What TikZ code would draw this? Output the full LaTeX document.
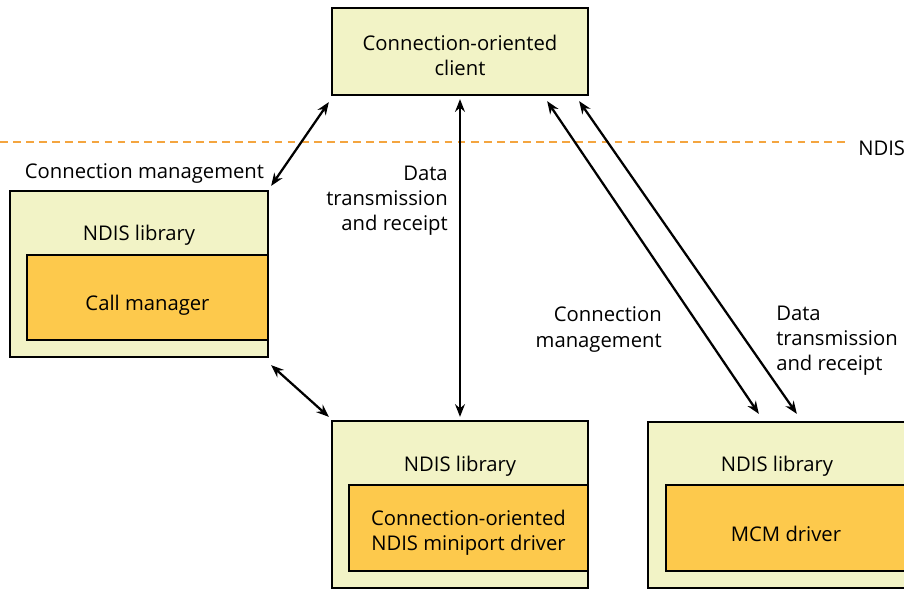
\documentclass[tikz,border=0pt]{standalone}
\usepackage{fontspec}
\setmainfont{Open Sans}
\usetikzlibrary{arrows.meta,positioning,calc}
\definecolor{libfill}{HTML}{F2F3C6}
\definecolor{drvfill}{HTML}{FDC94C}
\definecolor{ndisline}{HTML}{F4A53F}

\begin{document}
\begin{tikzpicture}[x=0.025cm,y=-0.025cm,
  lbl/.style={font=\fontsize{14.4}{17.8}\selectfont,inner sep=0pt},
  libbox/.style={draw,line width=1.6pt,fill=libfill,inner sep=0pt},
  drvbox/.style={draw,line width=1.6pt,fill=drvfill,inner sep=0pt},
  biarrow/.style={{Stealth[length=9pt,width=7pt]}-{Stealth[length=9pt,width=7pt]},line width=1.6pt}]
  \useasboundingbox (0,0) rectangle (904,588);
  \clip (0,0) rectangle (904,588);
  \draw[ndisline,line width=1.4pt,dash pattern=on 5.5pt off 3.8pt] (0,142) -- (848,142);
  \node[lbl,anchor=west] (ndis) at (858,148) {NDIS};
  \node[libbox,minimum width=6.4cm,minimum height=2.175cm] (client) at (460,51.5) {};
  \node[lbl,align=center] (clienttxt) at (460,55) {Connection-oriented\\client};
  \node[libbox,minimum width=6.45cm,minimum height=4.15cm] (cmlib) at (139,274) {};
  \node[lbl] (cmlibtxt) at (139,235) {NDIS library};
  \node[drvbox,minimum width=6.025cm,minimum height=2.125cm] (callmgr) at (147.5,297.5) {};
  \node[lbl] (callmgrtxt) at (147.5,305) {Call manager};
  \node[lbl] (cmtxt) at (144.5,173) {Connection management};
  \node[libbox,minimum width=6.4cm,minimum height=4.175cm] (minilib) at (460,504.5) {};
  \node[lbl] (minilibtxt) at (460,466) {NDIS library};
  \node[drvbox,minimum width=5.975cm,minimum height=2.15cm] (miniport) at (468.5,528) {};
  \node[lbl,align=center] (miniporttxt) at (468.5,533) {Connection-oriented\\NDIS miniport driver};
  \node[libbox,minimum width=6.45cm,minimum height=4.15cm] (mcmlib) at (777,505) {};
  \node[lbl] (mcmlibtxt) at (777,466) {NDIS library};
  \node[drvbox,minimum width=6cm,minimum height=2.15cm] (mcm) at (786,528) {};
  \node[lbl] (mcmtxt) at (786,534) {MCM driver};
  \node[lbl,align=right,anchor=east] (datatxt) at (448,201) {Data\\transmission\\and receipt};
  \node[lbl,align=right,anchor=east] (conntxt) at (662,329.5) {Connection\\management};
  \node[lbl,align=left,anchor=west] (datatxt2) at (776,341) {Data\\transmission\\and receipt};
  \draw[biarrow] ([shift={(2,-4)}]cmlib.north east) -- ([shift={(-2,6)}]client.south west);
  \draw[biarrow] ([shift={(0,3)}]client.south) -- ([shift={(0,-3)}]minilib.north);
  \draw[biarrow] ([shift={(2,7)}]cmlib.south east) -- ([shift={(-2,-3)}]minilib.north west);
  \draw[biarrow] ([shift={(-42,5)}]client.south east) -- ([shift={(112,-7)}]mcmlib.north west);
  \draw[biarrow] ([shift={(-10,5)}]client.south east) -- ([shift={(150,-7)}]mcmlib.north west);
\end{tikzpicture}
\end{document}
